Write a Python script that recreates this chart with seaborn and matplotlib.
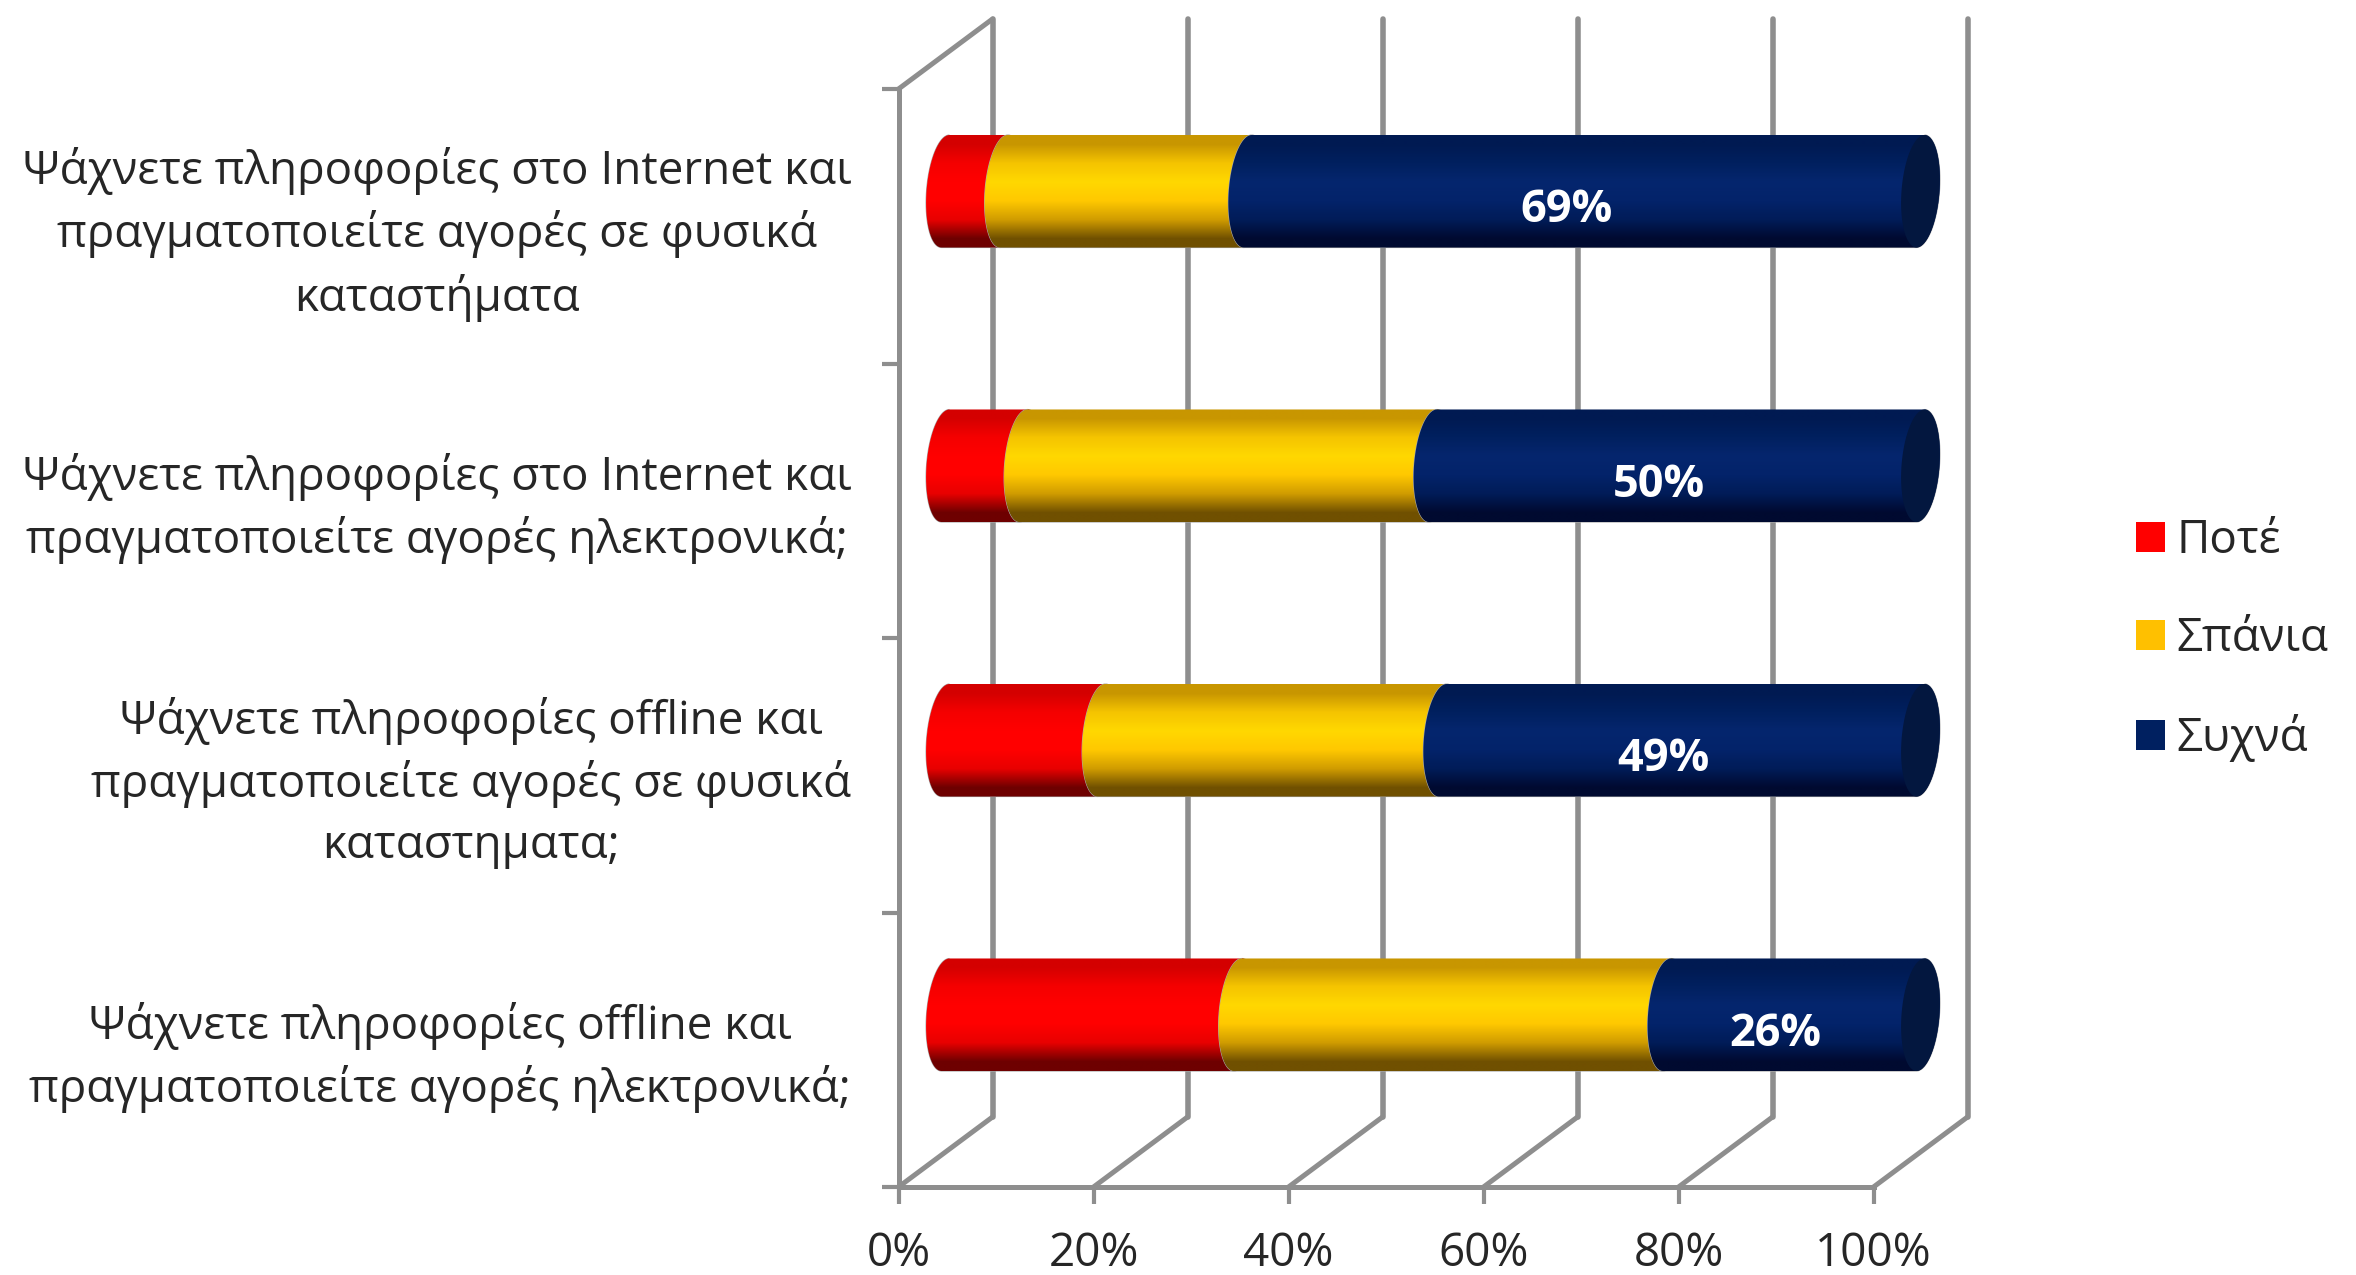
import numpy as np
import matplotlib
matplotlib.use('Agg')
from matplotlib import pyplot as plt
from matplotlib.patches import ConnectionPatch, Patch, PathPatch
from matplotlib.path import Path
from matplotlib.colors import to_rgb
from matplotlib.ticker import FixedLocator
from matplotlib.transforms import ScaledTranslation
import seaborn as sns

categories = ['Ψάχνετε πληροφορίες στο Internet και\nπραγματοποιείτε αγορές σε φυσικά\nκαταστήματα',
              'Ψάχνετε πληροφορίες στο Internet και\nπραγματοποιείτε αγορές ηλεκτρονικά;',
              'Ψάχνετε πληροφορίες offline και\nπραγματοποιείτε αγορές σε φυσικά\nκαταστηματα;',
              'Ψάχνετε πληροφορίες offline και\nπραγματοποιείτε αγορές ηλεκτρονικά;']
series_names = ['Ποτέ', 'Σπάνια', 'Συχνά']
pote = [6, 8, 16, 30]
spania = [25, 42, 35, 44]
syxna = [69, 50, 49, 26]
x_ticks = [0, 20, 40, 60, 80, 100]

legend_colors = ['#ff0000', '#ffc000', '#002060']
# vertical shading of the cylinders, top to bottom
shades = [['#d40000', '#f50000', '#ff0000', '#ff0000', '#e80000', '#6e0000'],
          ['#c89600', '#f5c400', '#ffd800', '#ffc800', '#d09c00', '#705000'],
          ['#001a52', '#01205f', '#05266e', '#03236a', '#011c58', '#000a30']]
cap_color = '#03173f'
axis_color = '#8e8e8e'

W, H = 2356, 1275
LEFT, RIGHT, TOP, BOTTOM = 898.5, 1873.5, 89, 1187
DX, DY = 47, 35  # depth offset of the bars, the back wall is twice that
FONT = 'Open Sans'
FS = 33


def frame(dx=0, dy=0):
    return [(LEFT + dx) / W, 1 - (BOTTOM - dy) / H, (RIGHT - LEFT) / W, (BOTTOM - TOP) / H]


def cylinder(a, b, top, bottom, rx=1.95, skew=0.41):
    cy = (top + bottom) / 2
    ry = (bottom - top) / 2
    t = np.linspace(np.pi / 2, 3 * np.pi / 2, 40)
    xs = np.r_[a + rx * np.cos(t) + skew * np.sin(t), b + rx * np.cos(t + np.pi) + skew * np.sin(t + np.pi)]
    ys = np.r_[cy - ry * np.sin(t), cy - ry * np.sin(t + np.pi)]
    return np.column_stack([xs, ys])


sns.set_theme(style='white')
plt.rcParams['font.family'] = [FONT, 'DejaVu Sans']

fig = plt.figure(figsize=(W / 100, H / 100), dpi=100)
ax_back = fig.add_axes(frame(2 * DX, 2 * DY), zorder=1)
ax = fig.add_axes(frame(), zorder=2)
ax_bar = fig.add_axes(frame(DX, DY), zorder=3)

stack = np.cumsum([pote, spania, syxna], axis=0)
for i, name in enumerate(series_names):
    sns.barplot(x=stack[i], y=categories, order=categories, color=legend_colors[i], width=0.41,
                saturation=1, orient='h', ax=ax_bar)

for a in (ax, ax_back, ax_bar):
    a.set_xlim(0, 100)
    a.set_ylim(3.5, -0.5)
    a.patch.set_visible(False)

# the flat bars from seaborn give the geometry, the cylinders go on top
for i, container in enumerate(ax_bar.containers):
    grad = np.array([to_rgb(c) for c in shades[i]]).reshape(-1, 1, 3)
    for j, bar in enumerate(container):
        bar.set_visible(False)
        start = stack[i - 1][j] if i > 0 else 0
        end = bar.get_width()
        top, bottom = bar.get_y(), bar.get_y() + bar.get_height()
        path = Path(cylinder(start, end, top, bottom), closed=False)
        outline = PathPatch(path, fc='none', ec='#a8a8a8', lw=0.8, zorder=2 + i, clip_on=False)
        ax_bar.add_patch(outline)
        im = ax_bar.imshow(grad, extent=[start - 3, end + 3, bottom, top], aspect='auto',
                           interpolation='bilinear', zorder=2 + i)
        im.set_clip_box(fig.bbox)
        im.set_clip_path(PathPatch(path, transform=ax_bar.transData))
        if i == 2:
            cap = cylinder(end, end, top, bottom)
            ax_bar.add_patch(PathPatch(Path(cap), fc=cap_color, ec='none', zorder=6, clip_on=False))
            ax_bar.annotate(f'{syxna[j]}%', ((start + end) / 2, (top + bottom) / 2), xytext=(-13, -14),
                            textcoords='offset points', ha='center', va='center', color='white',
                            fontsize=FS - 0.5, fontweight='bold', zorder=7)
ax_bar.set_xlim(0, 100)
ax_bar.set_ylim(3.5, -0.5)
ax_bar.axis('off')

# back wall
ax_back.set_xticks(x_ticks)
ax_back.set_yticks([])
ax_back.tick_params(length=0, labelbottom=False)
ax_back.xaxis.grid(True, color=axis_color, lw=4)
ax_back.set_axisbelow(True)
for line in ax_back.get_xgridlines():
    line.set_clip_on(False)
sns.despine(ax=ax_back, left=True, bottom=True)

# front axes
sns.despine(ax=ax)
for side in ('left', 'bottom'):
    ax.spines[side].set_color(axis_color)
    ax.spines[side].set_linewidth(3.6)
ax.set_xticks(x_ticks)
ax.set_xticklabels([f'{v}%' for v in x_ticks], fontsize=FS)
ax.set_yticks(np.arange(-0.5, 4))
ax.set_yticklabels([])
ax.yaxis.set_minor_locator(FixedLocator(np.arange(4)))
ax.set_yticks(np.arange(4), categories, minor=True, ha='right', multialignment='center',
              fontsize=FS, linespacing=1.41)
ax.tick_params(axis='both', which='major', length=12, width=3, color=axis_color, pad=20,
               bottom=True, left=True)
ax.tick_params(axis='y', which='minor', length=0, pad=34, left=False)
# the labels sit a little above the tick position
lift = ScaledTranslation(0, 5 / 100, fig.dpi_scale_trans)
for label in ax.get_yticklabels(minor=True):
    label.set_transform(label.get_transform() + lift)

# floor diagonals and the one at the top left corner
for v in x_ticks:
    fig.add_artist(ConnectionPatch((v, 3.5), (v, 3.5), 'data', 'data', axesA=ax, axesB=ax_back,
                                   color=axis_color, lw=3.6, zorder=1.5))
fig.add_artist(ConnectionPatch((0, -0.5), (0, -0.5), 'data', 'data', axesA=ax, axesB=ax_back,
                               color=axis_color, lw=3.6, zorder=1.5))

handles = [Patch(fc=c, ec='none') for c in legend_colors]
fig.legend(handles, series_names, loc='center left', bbox_to_anchor=(2136 / W, 1 - 640 / H), frameon=False,
           fontsize=FS, handlelength=0.64, handleheight=0.64, handletextpad=0.24,
           labelspacing=1.136, borderpad=0, borderaxespad=0)

fig.savefig('out.png', dpi=100)
